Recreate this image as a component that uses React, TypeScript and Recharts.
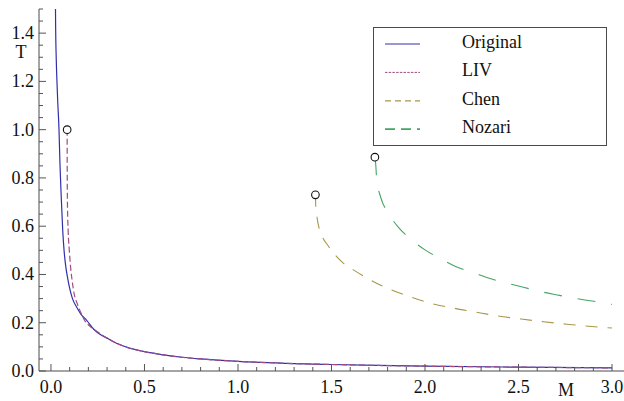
import React from "react";
import { LineChart, Line, XAxis, YAxis, Legend } from "recharts";

// ---- data ----
const originalM = [0.0235, 0.025, 0.028, 0.032, 0.036, 0.043, 0.048, 0.055, 0.063, 0.07, 0.078, 0.088, 0.098, 0.115, 0.137, 0.16, 0.191, 0.23, 0.27, 0.306, 0.35, 0.4, 0.5, 0.6, 0.7, 0.8, 1.0, 1.25, 1.5, 1.75, 2.0, 2.5, 3.0];
const originalT = [1.56, 1.42, 1.3, 1.2, 1.12, 1.0, 0.86, 0.72, 0.58, 0.5, 0.44, 0.39, 0.35, 0.3, 0.265, 0.236, 0.21, 0.172, 0.148, 0.134, 0.115, 0.1, 0.08, 0.067, 0.057, 0.05, 0.04, 0.032, 0.027, 0.023, 0.02, 0.016, 0.013];

const livM = [0.0865, 0.0866, 0.087, 0.088, 0.092, 0.098, 0.105, 0.114, 0.124, 0.14, 0.155, 0.18, 0.217, 0.25, 0.306, 0.35, 0.4, 0.5, 0.6, 0.7, 0.8, 1.0, 1.25, 1.5, 1.75, 2.0, 2.5, 3.0];
const livT = [1.0, 0.92, 0.8, 0.7, 0.58, 0.5, 0.43, 0.37, 0.32, 0.28, 0.25, 0.21, 0.18, 0.162, 0.134, 0.115, 0.1, 0.08, 0.067, 0.057, 0.05, 0.04, 0.032, 0.027, 0.023, 0.02, 0.016, 0.013];

const chenM = [1.414, 1.416, 1.422, 1.428, 1.447, 1.483, 1.519, 1.563, 1.617, 1.67, 1.777, 1.893, 2.018, 2.142, 2.258, 2.383, 2.508, 2.633, 2.758, 2.945, 3.0];
const chenT = [0.73, 0.68, 0.64, 0.612, 0.564, 0.518, 0.481, 0.447, 0.419, 0.394, 0.35, 0.315, 0.283, 0.262, 0.246, 0.229, 0.216, 0.204, 0.194, 0.181, 0.178];

const nozariM = [1.732, 1.736, 1.742, 1.763, 1.804, 1.857, 1.929, 2.0, 2.086, 2.166, 2.258, 2.344, 2.437, 2.526, 2.619, 2.708, 2.802, 2.893, 3.0];
const nozariT = [0.886, 0.861, 0.792, 0.72, 0.654, 0.596, 0.543, 0.502, 0.464, 0.432, 0.408, 0.384, 0.364, 0.347, 0.329, 0.315, 0.301, 0.29, 0.276];

const xTicks = [0, 0.1, 0.2, 0.3, 0.4, 0.5, 0.6, 0.7, 0.8, 0.9, 1.0, 1.1, 1.2, 1.3, 1.4, 1.5, 1.6, 1.7, 1.8, 1.9, 2.0, 2.1, 2.2, 2.3, 2.4, 2.5, 2.6, 2.7, 2.8, 2.9, 3.0];
const xTickLabels = ["0.0", "0.5", "1.0", "1.5", "2.0", "2.5", "3.0"];
const yTicks = [0, 0.05, 0.1, 0.15, 0.2, 0.25, 0.3, 0.35, 0.4, 0.45, 0.5, 0.55, 0.6, 0.65, 0.7, 0.75, 0.8, 0.85, 0.9, 0.95, 1.0, 1.05, 1.1, 1.15, 1.2, 1.25, 1.3, 1.35, 1.4, 1.45, 1.5];
const yTickLabels = ["0.0", "0.2", "0.4", "0.6", "0.8", "1.0", "1.2", "1.4"];

const seriesNames = ["Original", "LIV", "Chen", "Nozari"];

const zip = (ms: number[], ts: number[]) => ms.map((m, i) => ({ M: m, T: ts[i] }));
const originalData = zip(originalM, originalT);
const livData = zip(livM, livT);
const chenData = zip(chenM, chenT);
const nozariData = zip(nozariM, nozariT);

const FONT = "Liberation Serif, Tinos, DejaVu Serif, Times New Roman, Times, serif";
const TXT: React.CSSProperties = { fontFamily: FONT, fontSize: 18 };
const TICK_COLOR = "#555";
const FRAME = "#4a4a4a";

const COLORS = ["#3030ac", "#a34b7d", "#a8974a", "#46a463"];

const BottomTick = (props: any) => {
  const { x, y, index } = props;
  const major = index % 5 === 0;
  return (
    <g>
      <line x1={x} x2={x} y1={y} y2={y - (major ? 7 : 4)} stroke={TICK_COLOR} strokeWidth={1} />
      {major && (
        <text x={x} y={y + 22} textAnchor="middle" style={TXT} fill="#111">
          {xTickLabels[index / 5]}
        </text>
      )}
    </g>
  );
};

const TopTick = (props: any) => {
  const { x, y, index } = props;
  const major = index % 5 === 0;
  return <line x1={x} x2={x} y1={y} y2={y + (major ? 7 : 4)} stroke={TICK_COLOR} strokeWidth={1} />;
};

const LeftTick = (props: any) => {
  const { x, y, index } = props;
  const major = index % 4 === 0;
  return (
    <g>
      <line x1={x} x2={x + (major ? 7 : 4)} y1={y} y2={y} stroke={TICK_COLOR} strokeWidth={1} />
      {major && (
        <text x={x - 5} y={y + 6} textAnchor="end" style={TXT} fill="#111">
          {yTickLabels[index / 4]}
        </text>
      )}
    </g>
  );
};

const RightTick = (props: any) => {
  const { x, y, index } = props;
  const major = index % 4 === 0;
  return <line x1={x} x2={x - (major ? 7 : 4)} y1={y} y2={y} stroke={TICK_COLOR} strokeWidth={1} />;
};

const startDot = (props: any) => {
  const { cx, cy, index, key } = props;
  if (index !== 0) return <g key={key ?? `d${index}`} />;
  return <circle key={key ?? `d${index}`} cx={cx} cy={cy} r={3.8} fill="#fff" stroke="#111" strokeWidth={1.1} />;
};

const legendStyles = [
  { dash: undefined, width: 1.2 },
  { dash: "2.5 1.2", width: 1 },
  { dash: "6 4", width: 1.2 },
  { dash: "10 6", width: 1.8 },
];

const LegendBox = () => (
  <svg width={236} height={121} style={{ display: "block" }}>
    <rect x={0.5} y={0.5} width={233} height={118} fill="#fff" stroke={FRAME} strokeWidth={1} />
    {seriesNames.map((n, i) => {
      const cy = 17 + i * 28.4;
      return (
        <g key={n}>
          <line x1={12} x2={47} y1={cy} y2={cy} stroke={COLORS[i]} strokeWidth={legendStyles[i].width} strokeDasharray={legendStyles[i].dash} />
          <text x={89} y={cy + 4} style={TXT} fill="#111">{n}</text>
        </g>
      );
    })}
  </svg>
);

export default function App() {
  return (
    <div style={{ position: "absolute", left: 0, top: 0, width: 624, height: 401, background: "#fff", overflow: "hidden", fontFamily: FONT }}>
      <LineChart width={624} height={401} margin={{ top: 9, right: 0, bottom: 0, left: 0 }}>
        <XAxis xAxisId="b" type="number" dataKey="M" domain={[-0.064, 3.064]} allowDataOverflow ticks={xTicks} interval={0}
          tickSize={0} tickMargin={0} tick={<BottomTick />} axisLine={{ stroke: FRAME }} height={30} orientation="bottom" />
        <XAxis xAxisId="t" type="number" dataKey="M" domain={[-0.064, 3.064]} allowDataOverflow ticks={xTicks} interval={0}
          tickSize={0} tickMargin={0} tick={<TopTick />} axisLine={{ stroke: FRAME }} height={0} orientation="top" />
        <YAxis yAxisId="l" type="number" domain={[0, 1.5]} allowDataOverflow ticks={yTicks} interval={0}
          tickSize={0} tickMargin={0} tick={<LeftTick />} axisLine={{ stroke: FRAME }} width={39} orientation="left" />
        <YAxis yAxisId="r" type="number" domain={[0, 1.5]} allowDataOverflow ticks={yTicks} interval={0}
          tickSize={0} tickMargin={0} tick={<RightTick />} axisLine={{ stroke: FRAME }} width={0} orientation="right" />
        <Legend layout="vertical" align="center" verticalAlign="middle"
          wrapperStyle={{ position: "absolute", left: 373, top: 27, width: 236, height: 121 }}
          content={() => <LegendBox />} />
        <Line xAxisId="b" yAxisId="l" data={originalData} dataKey="T" type="monotone" stroke={COLORS[0]} strokeWidth={1.2} dot={false} isAnimationActive={false} name="Original" />
        <Line xAxisId="b" yAxisId="l" data={livData} dataKey="T" type="monotone" stroke={COLORS[1]} strokeWidth={1.2} strokeDasharray="6 3" dot={startDot} isAnimationActive={false} name="LIV" />
        <Line xAxisId="b" yAxisId="l" data={chenData} dataKey="T" type="monotone" stroke={COLORS[2]} strokeWidth={1.1} strokeDasharray="12 10" dot={startDot} isAnimationActive={false} name="Chen" />
        <Line xAxisId="b" yAxisId="l" data={nozariData} dataKey="T" type="monotone" stroke={COLORS[3]} strokeWidth={1.1} strokeDasharray="18 16" dot={startDot} isAnimationActive={false} name="Nozari" />
        <text x={21} y={58} textAnchor="middle" style={TXT} fill="#111">T</text>
        <text x={566} y={396} textAnchor="middle" style={TXT} fill="#111">M</text>
      </LineChart>
    </div>
  );
}
